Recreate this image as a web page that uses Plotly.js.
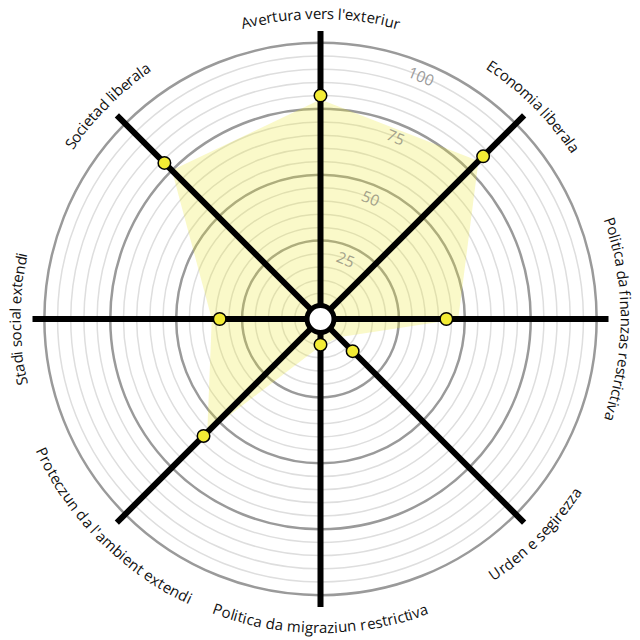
<!DOCTYPE html>
<html>
<head>
<meta charset="utf-8">
<script src="https://cdn.plot.ly/plotly-3.0.1.min.js"></script>
<style>
  html, body { margin:0; padding:0; background:#ffffff; }
  #myDiv { width:640px; height:640px; }
</style>
</head>
<body>
<div id="myDiv"></div>
<script>
// spider axes, clockwise from the top
var categories = [
  "Avertura vers l'exteriur",
  "Economia liberala",
  "Politica da finanzas restrictiva",
  "Urden e segirezza",
  "Politica da migraziun restrictiva",
  "Proteczun da l'ambient extendi",
  "Stadi social extendi",
  "Societad liberala"
];
// yellow area (profile) and the dotted values
var areaValues  = [78.5, 80, 47.5, 5, 5.5, 56, 36.5, 75];
var pointValues = [80, 82.5, 43, 12.5, 5, 58, 33.5, 79];

var minorRings = [5,10,15,20,30,35,40,45,55,60,65,70,80,85,90,95];
var majorRings = [25,50,75,100];
var ringLabels = ['25','50','75','100'];

// frame of the spider (pixels)
var W=640, H=640;
var CX=320.5, CY=319, R=288;
var RMIN=-4.74, RMAX=104.5;
var LABEL_R=306;
var LABEL_R_BOTTOM=308;
var LABEL_FONT_SIZE=15;
var LABEL_WEIGHT=500;
var LABEL_FAMILY='"Open Sans"';

var domX=[(CX-R)/W, (CX+R)/W];
var domY=[(H-CY-R)/H, (H-CY+R)/H];

var canvas=document.createElement('canvas');
var ctx=canvas.getContext('2d');

function textWidth(txt) {
  ctx.font=LABEL_WEIGHT+' '+LABEL_FONT_SIZE+'px '+LABEL_FAMILY;
  return ctx.measureText(txt).width;
}

function closeLoop(arr) {
  return arr.concat([arr[0]]);
}

function rPx(v) {
  return (v-RMIN)/(RMAX-RMIN)*R;
}

function toPaper(px,py) {
  return { x: px/W, y: 1-py/H };
}

function normAngle(a) {
  while(a>180) a-=360;
  while(a<=-180) a+=360;
  return a;
}

// lay a category name along the outer circle, one letter per annotation
function arcLabel(txt, compassDeg) {
  let out=[];
  let total=textWidth(txt);
  let bottom=(compassDeg>90 && compassDeg<270);
  let lr=bottom ? LABEL_R_BOTTOM : LABEL_R;
  for(let k=0;k<txt.length;k++) {
    let ch=txt.charAt(k);
    let start=textWidth(txt.slice(0,k));
    let w=textWidth(txt.slice(0,k+1))-start;
    if(ch===' ') continue;
    let s=start+w/2-total/2;
    let phi=bottom ? compassDeg - (s/lr)*180/Math.PI
                   : compassDeg + (s/lr)*180/Math.PI;
    let rad=phi*Math.PI/180;
    let p=toPaper(CX+lr*Math.sin(rad), CY-lr*Math.cos(rad));
    out.push({ text: ch, x:p.x, y:p.y, xref:'paper', yref:'paper',
               xanchor:'center', yanchor:'middle', showarrow:false,
               textangle: normAngle(bottom ? phi-180 : phi),
               font: { family: LABEL_FAMILY, size: LABEL_FONT_SIZE, weight: LABEL_WEIGHT, color:'#111111' } });
  }
  return out;
}

function buildAnnotations() {
  let ann=[];
  let n=categories.length;
  for(let i=0;i<n;i++) {
    ann=ann.concat(arcLabel(categories[i], i*360/n));
  }
  // ring values, written across the rings between the first two axes
  let a=(180/n)*Math.PI/180;
  for(let i=0;i<majorRings.length;i++) {
    let r=rPx(majorRings[i])-13;
    let p=toPaper(CX+r*Math.sin(a), CY-r*Math.cos(a));
    ann.push({ text: ringLabels[i], x:p.x, y:p.y, xref:'paper', yref:'paper',
               xanchor:'center', yanchor:'middle', showarrow:false,
               textangle: 180/n,
               font: { family: LABEL_FAMILY, size: 15.5, color: (i<3 ? '#a3a18a' : '#9a9a9a') } });
  }
  return ann;
}

function polarBase(bg) {
  return {
    domain: { x: domX, y: domY },
    bgcolor: bg,
    angularaxis: { type:'category', categoryarray: categories, rotation: 90,
                   direction: 'clockwise', showline:false, showticklabels:false,
                   ticks:'', showgrid:false },
    radialaxis: { range:[RMIN,RMAX], showline:false, showticklabels:false,
                  ticks:'', showgrid:false }
  };
}

var polar1=polarBase('#ffffff');
polar1.radialaxis.showgrid=true;
polar1.radialaxis.tickmode='array';
polar1.radialaxis.tickvals=minorRings;
polar1.radialaxis.gridcolor='#dedede';
polar1.radialaxis.gridwidth=1.5;

var polar2=polarBase('rgba(255,255,255,0)');
polar2.radialaxis.showgrid=true;
polar2.radialaxis.tickmode='array';
polar2.radialaxis.tickvals=majorRings;
polar2.radialaxis.gridcolor='#9a9a9a';
polar2.radialaxis.gridwidth=2.5;

var polar3=polarBase('rgba(255,255,255,0)');
polar3.angularaxis.showgrid=true;
polar3.angularaxis.gridcolor='#000000';
polar3.angularaxis.gridwidth=6;

// an invisible trace so the thin-ring subplot is drawn
var traceBase = { type:'scatterpolar', subplot:'polar',
                  r:[RMIN], theta:[categories[0]], mode:'markers',
                  marker:{ size:1, color:'rgba(0,0,0,0)' },
                  hoverinfo:'skip', showlegend:false };

var traceArea = { type:'scatterpolar', subplot:'polar2',
                  r: closeLoop(areaValues), theta: closeLoop(categories),
                  mode:'lines', fill:'toself',
                  fillcolor:'rgba(236,230,40,0.25)',
                  line:{ width:0, color:'rgba(0,0,0,0)' },
                  hoverinfo:'skip', showlegend:false };

var tracePoints = { type:'scatterpolar', subplot:'polar3',
                    r: pointValues, theta: categories, mode:'markers',
                    marker:{ size:12.5, color:'#f3ec35', line:{ color:'#000000', width:1.5 } },
                    hoverinfo:'skip', showlegend:false };

var traceHub = { type:'scatterpolar', subplot:'polar3',
                 r:[RMIN], theta:[categories[0]], mode:'markers',
                 marker:{ size:27, color:'#ffffff', line:{ color:'#000000', width:5 } },
                 hoverinfo:'skip', showlegend:false };

var data=[traceBase, traceArea, tracePoints, traceHub];

var layout = {
  width: W, height: H,
  margin: { l:0, r:0, t:0, b:0 },
  paper_bgcolor:'#ffffff',
  showlegend:false,
  polar: polar1,
  polar2: polar2,
  polar3: polar3,
  annotations: buildAnnotations()
};

var config={ displayModeBar:false, staticPlot:true };

Plotly.newPlot('myDiv', data, layout, config);
</script>
</body>
</html>
